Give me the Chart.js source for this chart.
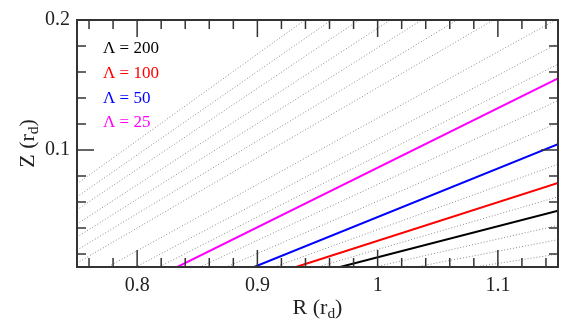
<!DOCTYPE html>
<html><head><meta charset="utf-8">
<script src="https://cdn.jsdelivr.net/npm/chart.js@4.4.0/dist/chart.umd.min.js"></script>
<style>html,body{margin:0;padding:0;background:#fff;}canvas{display:block;}</style>
</head><body>
<canvas id="c" width="582" height="332"></canvas>
<script>
// Tick values and labels
const xTickValues = [0.8, 0.9, 1.0, 1.1];
const xTickLabels = ['0.8', '0.9', '1', '1.1'];
const xMinorValues = [0.76, 0.78, 0.82, 0.84, 0.86, 0.88, 0.92, 0.94, 0.96, 0.98, 1.02, 1.04, 1.06, 1.08, 1.12, 1.14];
const yTickValues = [0.1, 0.2];
const yTickLabels = ['0.1', '0.2'];
const yMinorValues = [0.02, 0.04, 0.06, 0.08, 0.12, 0.14, 0.16, 0.18];

// Coloured lines (Lambda series): two end points each
const lambdaLabels = ['Λ = 200', 'Λ = 100', 'Λ = 50', 'Λ = 25'];
const lambdaStartR = [0.9688, 0.9322, 0.8973, 0.8334];
const lambdaStartZ = [0.01, 0.01, 0.01, 0.01];
const lambdaEndR = [1.15, 1.15, 1.15, 1.15];
const lambdaEndZ = [0.0533, 0.0747, 0.1045, 0.155];

// Dotted grey guide lines: Z at R = 0.75 and at R = 1.15
const dottedR0 = 0.75;
const dottedR1 = 1.15;
const dottedZAtLeft  = [0.074, 0.064, 0.054, 0.043, 0.033, 0.023, 0.013, -0.003, -0.014, -0.022, -0.034, -0.040, -0.045, -0.044, -0.042, -0.040, -0.038];
const dottedZAtRight = [0.340, 0.321, 0.303, 0.284, 0.266, 0.247, 0.229, 0.201, 0.182, 0.166, 0.138, 0.121, 0.089, 0.064, 0.042, 0.031, 0.020];

const lambdaColors = ['#000000', '#ff0000', '#0000ff', '#ff00ff'];
const FONT = '"Liberation Serif", "Times New Roman", serif';
const INK = '#222';

const datasets = [];
dottedZAtLeft.forEach((zl, i) => {
  datasets.push({
    data: [{x: dottedR0, y: zl}, {x: dottedR1, y: dottedZAtRight[i]}],
    showLine: true, borderColor: '#8a8a8a', borderWidth: 1, borderDash: [1, 2],
    pointRadius: 0, fill: false
  });
});
lambdaLabels.forEach((lab, i) => {
  datasets.push({
    label: lab,
    data: [{x: lambdaStartR[i], y: lambdaStartZ[i]}, {x: lambdaEndR[i], y: lambdaEndZ[i]}],
    showLine: true, borderColor: lambdaColors[i], borderWidth: 2,
    pointRadius: 0, fill: false
  });
});

function drawSubTitle(ctx, main, sub, close, cx, baseY, size) {
  ctx.font = size + 'px ' + FONT;
  const w1 = ctx.measureText(main).width;
  const w3 = ctx.measureText(close).width;
  ctx.font = (size * 0.7) + 'px ' + FONT;
  const w2 = ctx.measureText(sub).width;
  let x = cx - (w1 + w2 + w3) / 2;
  ctx.textAlign = 'left';
  ctx.textBaseline = 'alphabetic';
  ctx.font = size + 'px ' + FONT;
  ctx.fillText(main, x, baseY); x += w1;
  ctx.font = (size * 0.7) + 'px ' + FONT;
  ctx.fillText(sub, x, baseY + size * 0.18); x += w2;
  ctx.font = size + 'px ' + FONT;
  ctx.fillText(close, x, baseY);
}

const decor = {
  id: 'decor',
  afterDatasetsDraw(chart) {
    const ctx = chart.ctx, a = chart.chartArea, xs = chart.scales.x, ys = chart.scales.y;
    ctx.save();
    ctx.strokeStyle = '#333';
    ctx.lineWidth = 1.5;
    const seg = (x1, y1, x2, y2) => { ctx.beginPath(); ctx.moveTo(x1, y1); ctx.lineTo(x2, y2); ctx.stroke(); };
    const MAJ = 17, MIN = 9;
    xTickValues.forEach(v => { const p = xs.getPixelForValue(v); seg(p, a.bottom, p, a.bottom - MAJ); seg(p, a.top, p, a.top + MAJ); });
    xMinorValues.forEach(v => { const p = xs.getPixelForValue(v); seg(p, a.bottom, p, a.bottom - MIN); seg(p, a.top, p, a.top + MIN); });
    yTickValues.forEach(v => { const p = ys.getPixelForValue(v); seg(a.left, p, a.left + MAJ, p); seg(a.right, p, a.right - MAJ, p); });
    yMinorValues.forEach(v => { const p = ys.getPixelForValue(v); seg(a.left, p, a.left + MIN, p); seg(a.right, p, a.right - MIN, p); });
    ctx.lineWidth = 2;
    ctx.strokeRect(a.left, a.top, a.right - a.left, a.bottom - a.top);

    // legend text inside the plot
    ctx.font = '17px ' + FONT;
    ctx.textAlign = 'left';
    ctx.textBaseline = 'alphabetic';
    const legX = a.left + 26;
    lambdaLabels.forEach((lab, i) => {
      ctx.fillStyle = lambdaColors[i];
      ctx.fillText(lab, legX, a.top + 33 + i * 24.8);
    });

    // axis titles
    ctx.fillStyle = INK;
    drawSubTitle(ctx, 'R (r', 'd', ')', (a.left + a.right) / 2, 314, 22);
    ctx.save();
    ctx.translate(34, (a.top + a.bottom) / 2);
    ctx.rotate(-Math.PI / 2);
    drawSubTitle(ctx, 'Z (r', 'd', ')', 0, 0, 22);
    ctx.restore();
    ctx.restore();
  }
};

new Chart(document.getElementById('c'), {
  type: 'scatter',
  data: { datasets },
  options: {
    responsive: false,
    animation: false,
    events: [],
    layout: { padding: { top: 20, right: 24, left: 0, bottom: 0 } },
    plugins: { legend: { display: false }, tooltip: { enabled: false } },
    scales: {
      x: {
        type: 'linear', min: 0.75, max: 1.15,
        grid: { display: false, drawTicks: false },
        border: { display: false },
        afterBuildTicks: s => { s.ticks = xTickValues.map(v => ({ value: v })); },
        afterFit: s => { s.height = 65; },
        ticks: { callback: (v, i) => xTickLabels[i], color: INK, font: { family: FONT, size: 20 }, padding: 7, maxRotation: 0, autoSkip: false }
      },
      y: {
        type: 'linear', min: 0.01, max: 0.2,
        grid: { display: false, drawTicks: false },
        border: { display: false },
        afterBuildTicks: s => { s.ticks = yTickValues.map(v => ({ value: v })); },
        afterFit: s => { s.width = 77; },
        ticks: { callback: (v, i) => yTickLabels[i], color: INK, font: { family: FONT, size: 20 }, padding: 7, autoSkip: false }
      }
    }
  },
  plugins: [decor]
});
</script>
</body></html>
